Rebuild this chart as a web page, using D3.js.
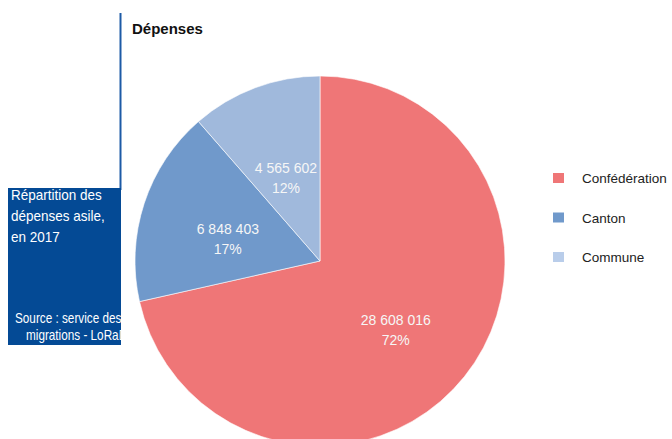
<html>
<head>
<meta charset="utf-8">
<script src="https://cdn.jsdelivr.net/npm/d3@7"></script>
<style>
  body { margin: 0; background: #fff; }
  text { font-family: "Liberation Sans", Arial, sans-serif; }
</style>
</head>
<body>
<svg id="chart" width="672" height="439"></svg>
<script>
// data
const categories = ["Confédération", "Canton", "Commune"];
const amounts = [28608016, 6848403, 4565602];
const amountLabels = ["28 608 016", "6 848 403", "4 565 602"];
const percentLabels = ["72%", "17%", "12%"];
const sliceColors = ["#ef7677", "#7099cb", "#a0b9dc"];
const legendColors = ["#ef7677", "#7099cb", "#b9cdea"];

const svg = d3.select('#chart');
const cx = 320, cy = 261, radius = 185;

// blue side panel with its rule
svg.append('line')
  .attr('x1', 120.5).attr('x2', 120.5)
  .attr('y1', 13).attr('y2', 190)
  .attr('stroke', '#1d5aa6').attr('stroke-width', 2);

svg.append('defs').append('clipPath').attr('id', 'panelClip')
  .append('rect').attr('x', 8).attr('y', 188).attr('width', 113).attr('height', 157);

svg.append('rect')
  .attr('x', 8).attr('y', 188).attr('width', 113).attr('height', 157)
  .attr('fill', '#044a95');

// condensed look: squeeze the text horizontally
const panelText = svg.append('g').attr('clip-path', 'url(#panelClip)')
  .attr('fill', '#fff');
["Répartition des", "dépenses asile,", "en 2017"].forEach((t, i) => {
  panelText.append('text')
    .attr('transform', `translate(11,${200 + i * 21}) scale(0.9,1)`)
    .style('font-size', '15px').text(t);
});
panelText.append('text')
  .attr('transform', 'translate(15,323) scale(0.84,1)')
  .style('font-size', '14px').text("Source : service des");
panelText.append('text')
  .attr('transform', 'translate(26,340) scale(0.84,1)')
  .style('font-size', '14px').text("migrations - LoRaDi");

// title
svg.append('text')
  .attr('x', 132).attr('y', 34)
  .style('font-size', '15px').style('font-weight', 'bold')
  .attr('fill', '#111')
  .text("Dépenses");

// pie
const pie = d3.pie().sort(null).value(d => d);
const arcs = pie(amounts);
const arc = d3.arc().innerRadius(0).outerRadius(radius);
const labelArc = d3.arc().innerRadius(97).outerRadius(97);

const g = svg.append('g').attr('transform', `translate(${cx},${cy})`);
g.selectAll('path').data(arcs).enter().append('path')
  .attr('d', arc)
  .attr('fill', (d, i) => sliceColors[i])
  .attr('stroke', '#fff').attr('stroke-width', 0.6);

const labels = g.selectAll('g.lbl').data(arcs).enter().append('g')
  .attr('class', 'lbl')
  .attr('transform', d => `translate(${labelArc.centroid(d)})`);
labels.append('text')
  .attr('text-anchor', 'middle').attr('y', 3)
  .attr('fill', '#f6f6f6').style('font-size', '14px')
  .text((d, i) => amountLabels[i]);
labels.append('text')
  .attr('text-anchor', 'middle').attr('y', 23)
  .attr('fill', '#f6f6f6').style('font-size', '14px')
  .text((d, i) => percentLabels[i]);

// legend
const legend = svg.append('g').attr('transform', 'translate(553,173)');
const items = legend.selectAll('g').data(categories).enter().append('g')
  .attr('transform', (d, i) => `translate(0,${i * 39.5})`);
items.append('rect')
  .attr('width', 11).attr('height', 10)
  .attr('fill', (d, i) => legendColors[i]);
items.append('text')
  .attr('x', 29).attr('y', 10)
  .attr('fill', '#222').style('font-size', '13.5px')
  .text(d => d);
</script>
</body>
</html>
